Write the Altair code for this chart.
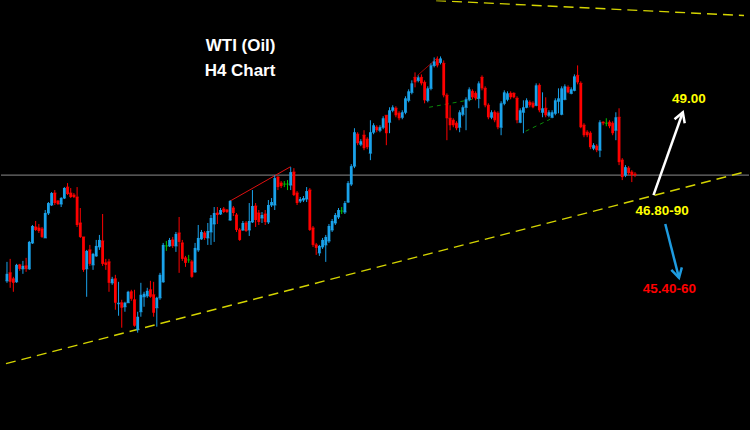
import altair as alt
import pandas as pd

# ---- candle data (WTI, H4) : open / high / low / close ----
opens = [45.38,45.54,45.42,45.36,45.70,45.62,45.68,45.62,46.14,46.46,46.44,46.42,46.24,46.74,46.90,47.14,46.98,46.92,47.04,47.26,
         47.14,47.10,47.06,46.54,46.26,45.62,46.00,45.70,45.88,46.06,46.18,45.74,45.76,45.34,45.42,44.92,44.94,44.86,44.94,45.16,
         45.00,44.40,44.76,45.06,45.08,45.20,45.10,44.84,45.04,45.36,46.08,46.08,46.20,46.08,46.34,46.14,45.84,45.80,45.76,45.56,
         46.00,46.22,46.34,46.24,46.36,46.52,46.74,46.72,46.82,46.80,46.60,46.84,46.70,46.40,46.40,46.54,46.40,46.56,46.88,46.74,
         46.64,46.72,46.56,46.90,46.90,47.46,47.34,47.32,47.32,47.30,47.56,47.14,46.98,47.00,47.02,47.20,46.44,46.10,45.94,46.06,
         46.10,46.18,46.40,46.54,46.66,46.78,46.76,46.96,47.32,47.68,48.32,48.12,48.30,48.22,47.94,48.36,48.46,48.40,48.46,48.70,
         48.56,48.80,48.84,48.74,48.66,48.76,49.00,49.16,49.46,49.40,49.46,49.36,49.00,49.24,49.70,49.82,49.76,49.74,49.10,48.64,
         48.60,48.54,48.46,48.72,48.86,49.02,49.18,49.14,49.04,49.46,49.24,48.90,48.66,48.76,48.74,48.46,48.94,49.02,49.14,49.14,
         49.04,48.56,48.76,48.86,48.96,48.94,48.90,49.30,48.76,48.84,48.70,48.66,48.74,48.98,48.72,49.02,49.26,49.14,49.20,49.50,
         49.34,48.50,48.36,48.34,48.04,48.08,48.00,48.56,48.54,48.56,48.54,48.40,48.66,47.80,47.50,47.64,47.56,47.52]
highs = [45.76,45.82,45.46,45.72,45.72,45.78,45.84,46.18,46.50,46.58,46.52,46.46,46.80,46.96,47.16,47.20,47.00,47.06,47.26,47.34,
         47.24,47.14,47.26,46.84,46.26,46.00,46.10,45.94,46.20,46.30,46.72,45.82,45.82,45.46,45.50,45.36,45.00,44.96,45.18,45.20,
         45.20,44.76,45.34,45.16,45.24,45.38,45.36,45.06,45.54,46.14,46.18,46.24,46.26,46.36,46.66,46.20,45.88,45.90,45.80,46.14,
         46.50,46.40,46.38,46.54,46.70,46.86,46.86,46.84,46.86,46.82,47.00,46.88,46.74,46.44,46.58,46.58,46.94,47.20,46.94,46.80,
         46.76,46.80,47.00,47.04,47.50,47.48,47.38,47.38,47.40,47.66,47.64,47.18,47.06,47.08,47.26,47.24,46.48,46.14,46.10,46.24,
         46.30,46.52,46.62,46.74,46.84,46.86,46.98,47.38,47.72,48.44,48.36,48.22,48.40,48.26,48.60,48.54,48.50,48.50,48.68,48.70,
         48.86,48.90,48.88,48.78,48.80,49.08,49.22,49.40,49.56,49.50,49.52,49.40,49.28,49.74,49.86,49.88,49.88,49.80,49.14,48.90,
         48.64,48.58,48.80,48.90,49.06,49.26,49.22,49.18,49.38,49.50,49.28,48.94,48.80,48.80,48.78,48.98,49.20,49.18,49.18,49.16,
         49.08,48.84,49.00,49.04,49.00,48.98,49.34,49.34,49.16,49.06,48.80,48.80,49.04,49.24,49.28,49.32,49.30,49.26,49.52,49.70,
         49.38,48.54,48.40,48.38,48.14,48.12,48.60,48.58,48.64,48.60,48.58,48.76,48.84,47.84,47.70,47.68,47.60,47.56]
lows = [45.34,45.24,45.16,45.34,45.58,45.52,45.56,45.60,46.12,46.38,46.34,46.24,46.24,46.70,46.88,46.90,46.90,46.86,47.02,47.10,
        47.04,47.04,46.46,46.24,45.56,45.06,45.68,45.60,45.86,46.00,45.68,45.60,45.16,45.30,44.80,44.68,44.44,44.76,44.94,44.98,
        44.46,44.34,44.66,44.86,45.04,45.04,44.66,44.46,45.00,45.34,45.98,46.06,46.04,45.96,45.54,45.78,45.66,45.74,45.44,45.54,
        45.96,46.20,46.20,46.10,46.10,46.16,46.52,46.70,46.74,46.74,46.58,46.68,46.36,46.18,46.38,46.36,46.28,46.54,46.46,46.50,
        46.54,46.50,46.52,46.86,46.80,47.20,47.24,47.26,47.20,47.20,47.08,46.90,46.94,46.96,46.96,46.38,46.06,45.90,45.88,46.02,
        45.76,46.14,46.36,46.50,46.62,46.72,46.72,46.94,47.28,47.64,48.10,48.08,48.00,48.02,47.80,48.32,48.36,48.36,48.42,48.10,
        48.34,48.76,48.66,48.60,48.62,48.72,48.96,49.12,49.26,49.36,49.30,48.94,48.96,49.20,49.66,49.66,49.72,49.06,48.20,48.40,
        48.46,48.40,48.36,48.68,48.40,48.98,49.02,49.00,48.84,49.20,48.86,48.62,48.62,48.56,48.42,48.30,48.90,48.98,49.02,49.04,
        48.54,48.54,48.34,48.84,48.86,48.84,48.88,48.76,48.66,48.66,48.66,48.64,48.70,48.74,48.70,49.00,49.14,49.12,49.18,49.32,
        48.44,48.26,48.26,48.02,48.00,47.96,47.86,48.50,48.48,48.44,48.30,48.20,47.70,47.40,47.46,47.50,47.36,47.46]
closes = [45.52,45.36,45.34,45.70,45.62,45.68,45.62,46.16,46.48,46.40,46.38,46.26,46.74,46.94,47.14,46.94,46.92,47.04,47.24,47.12,
          47.06,47.06,46.50,46.26,45.60,45.98,45.72,45.92,46.08,46.20,45.72,45.70,45.34,45.42,44.94,44.94,44.84,44.94,45.16,45.02,
          44.48,44.66,45.10,45.12,45.18,45.06,44.74,45.04,45.50,46.10,46.08,46.20,46.08,46.32,46.16,45.82,45.74,45.80,45.46,46.04,
          46.24,46.36,46.24,46.38,46.64,46.74,46.70,46.80,46.76,46.76,46.98,46.74,46.40,46.20,46.54,46.38,46.58,46.88,46.60,46.56,
          46.70,46.56,46.90,46.96,47.44,47.26,47.28,47.32,47.32,47.56,47.10,46.94,47.02,47.04,47.18,46.40,46.10,46.04,46.08,46.20,
          46.26,46.48,46.58,46.70,46.80,46.78,46.94,47.34,47.68,48.36,48.14,48.18,48.04,48.06,48.36,48.50,48.40,48.46,48.64,48.34,
          48.80,48.86,48.70,48.64,48.76,49.04,49.18,49.34,49.36,49.46,49.34,49.00,49.24,49.70,49.78,49.70,49.84,49.10,48.64,48.50,
          48.50,48.44,48.76,48.86,49.02,49.22,49.06,49.04,49.34,49.24,48.90,48.66,48.76,48.60,48.46,48.94,49.16,49.14,49.06,49.06,
          48.60,48.80,48.86,49.00,48.90,48.86,49.30,48.80,48.84,48.70,48.76,48.76,49.00,49.04,49.24,49.28,49.16,49.22,49.48,49.36,
          48.46,48.30,48.30,48.06,48.10,48.00,48.56,48.54,48.54,48.48,48.34,48.66,47.76,47.46,47.66,47.54,47.50,47.50]

# ---- annotations ----
level_price = 47.50
title_lines = ["WTI (Oil)", "H4 Chart"]
title_idx = [73.3, 73.1]
title_price = [50.08, 49.58]
label_texts = ["49.00", "46.80-90", "45.40-60"]
label_idx = [213.9, 205.5, 207.8]
label_price = [49.03, 46.79, 45.21]
label_colors = ["#ffff00", "#ffff00", "#ff0000"]

# trend / pattern lines: (index, price)
lower_trend = [(-0.31, 43.72), (231.2, 47.56)]
upper_trend = [(134.6, 51.00), (231.2, 50.70)]
red_wedge = [(70.0, 46.98), (89.0, 47.67)]
dark_red = [(128.8, 49.50), (135.0, 49.85)]
green_a = [(132.4, 48.86), (147.8, 49.04)]
green_b = [(162.7, 48.38), (170.4, 48.62)]
white_arrow = [(202.8, 47.10), (212.0, 48.76)]
white_head = [(209.4, 48.62), (212.0, 48.76), (212.6, 48.54)]
blue_arrow = [(206.5, 46.52), (210.8, 45.44)]
blue_head = [(211.7, 45.65), (210.8, 45.44), (208.4, 45.60)]

UP = "#1aa2ea"
DOWN = "#ff0000"
FLAT = "#00c800"

n = len(opens)
df = pd.DataFrame({"i": list(range(n)), "open": opens, "high": highs, "low": lows, "close": closes})
df["dir"] = ["up" if c > o else ("down" if c < o else "flat") for o, c in zip(opens, closes)]

X = alt.Scale(domain=[-0.31, 231.2], nice=False, zero=False)
Y = alt.Scale(domain=[42.4, 51.0], nice=False, zero=False)
COL = alt.Scale(domain=["up", "down", "flat"], range=[UP, DOWN, FLAT])

base = alt.Chart(df).encode(
    x=alt.X("i:Q", scale=X, axis=None),
    color=alt.Color("dir:N", scale=COL, legend=None),
)
wicks = base.mark_rule(strokeWidth=1).encode(y=alt.Y("low:Q", scale=Y, axis=None), y2="high:Q")
bodies = base.mark_bar(size=2.8).encode(y=alt.Y("open:Q", scale=Y, axis=None), y2="close:Q")
dojis = base.mark_tick(orient="horizontal", size=3.5, thickness=1).encode(y=alt.Y("open:Q", scale=Y, axis=None))


def seg_df(pts, name):
    return pd.DataFrame({"g": name, "i": [p[0] for p in pts], "p": [p[1] for p in pts],
                         "o": list(range(len(pts)))})


def line_layer(frames, color, width, dash=None):
    d = pd.concat(frames, ignore_index=True)
    kw = dict(color=color, strokeWidth=width, clip=True)
    if dash:
        kw["strokeDash"] = dash
    return alt.Chart(d).mark_line(**kw).encode(
        x=alt.X("i:Q", scale=X, axis=None),
        y=alt.Y("p:Q", scale=Y, axis=None),
        detail="g:N",
        order="o:Q",
    )


yellow_lines = line_layer([seg_df(lower_trend, "lo"), seg_df(upper_trend, "up")], "#d4d400", 1.4, [10, 6])
red_lines = line_layer([seg_df(red_wedge, "r1")], "#e01010", 1)
dark_red_lines = line_layer([seg_df(dark_red, "r2")], "#a00000", 1)
green_lines = line_layer([seg_df(green_a, "g1"), seg_df(green_b, "g2")], "#0a8a0a", 1, [4, 4])
white_lines = line_layer([seg_df(white_arrow, "wa"), seg_df(white_head, "wh")], "#ffffff", 2.5)
blue_lines = line_layer([seg_df(blue_arrow, "ba"), seg_df(blue_head, "bh")], "#1e9be0", 2.5)

level = alt.Chart(pd.DataFrame({"p": [level_price]})).mark_rule(color="#8c8c8c", strokeWidth=1).encode(
    y=alt.Y("p:Q", scale=Y, axis=None)
)

titles = alt.Chart(pd.DataFrame({"t": title_lines, "i": title_idx, "p": title_price})).mark_text(
    font="Liberation Sans", fontWeight="bold", fontSize=17, color="#ffffff", align="center", baseline="middle"
).encode(x=alt.X("i:Q", scale=X, axis=None), y=alt.Y("p:Q", scale=Y, axis=None), text="t:N")

labels = alt.Chart(pd.DataFrame({"t": label_texts, "i": label_idx, "p": label_price, "c": label_colors})).mark_text(
    font="Liberation Sans", fontWeight="bold", fontSize=13.5, align="center", baseline="middle"
).encode(
    x=alt.X("i:Q", scale=X, axis=None),
    y=alt.Y("p:Q", scale=Y, axis=None),
    text="t:N",
    color=alt.Color("c:N", scale=None),
)

chart = alt.layer(
    level, yellow_lines, red_lines, dark_red_lines, green_lines,
    wicks, bodies, dojis, white_lines, blue_lines, titles, labels,
).resolve_scale(color="independent").properties(
    width=750, height=430, padding=0, background="#000000"
).configure_view(strokeWidth=0)

chart.save("out.html", embed_options={"renderer": "svg", "actions": False,
                                      "defaultStyle": "body{margin:0;background:#000000;overflow:hidden;}"})
